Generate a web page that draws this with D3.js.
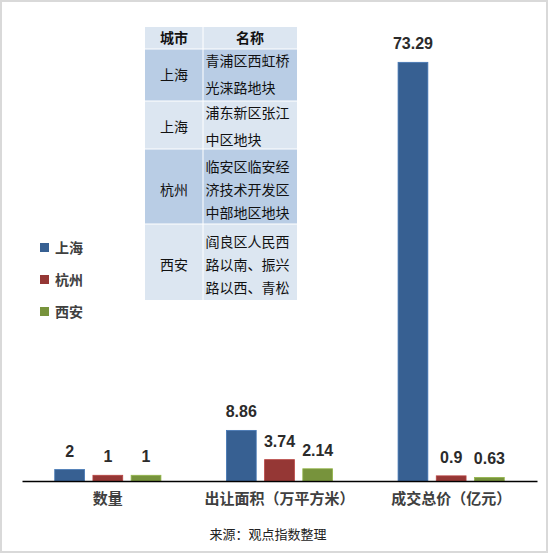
<!DOCTYPE html>
<html><head><meta charset="utf-8">
<script src="https://cdn.jsdelivr.net/npm/d3@7"></script>
<style>
html,body{margin:0;padding:0;background:#fff;}
svg{display:block;}
</style></head>
<body>
<script>
// ---- data ----
const categories = ["数量", "出让面积（万平方米）", "成交总价（亿元）"];
const seriesNames = ["上海", "杭州", "西安"];
const shanghai = [2, 8.86, 73.29];
const hangzhou = [1, 3.74, 0.9];
const xian = [1, 2.14, 0.63];
const seriesValues = [shanghai, hangzhou, xian];
const seriesColors = ["#376092", "#953735", "#77933c"];
const tableHeader = ["城市", "名称"];
const tableCities = ["上海", "上海", "杭州", "西安"];
const tableNames = [
  ["青浦区西虹桥", "光涞路地块"],
  ["浦东新区张江", "中区地块"],
  ["临安区临安经", "济技术开发区", "中部地区地块"],
  ["阎良区人民西", "路以南、振兴", "路以西、青松"]
];
const sourceText = "来源：观点指数整理";

// ---- drawing ----
const W = 550, H = 554;
const svg = d3.select("body").append("svg").attr("width", W).attr("height", H);
svg.append("rect").attr("x", 1).attr("y", 1).attr("width", 546).attr("height", 551)
  .attr("fill", "#fff").attr("stroke", "#d9d9d9").attr("stroke-width", 2);

const cjk = "'Noto Sans CJK SC','Noto Sans',sans-serif";
const num = "'Liberation Sans',Arial,sans-serif";

const x0 = d3.scaleBand().domain(categories).range([22, 537]).paddingInner(0).paddingOuter(0);
const x1 = d3.scaleBand().domain(seriesNames).range([0, x0.bandwidth()]).paddingInner(0.22).paddingOuter(0.857);
const y = d3.scaleLinear().domain([0, 80]).range([481, 24]);

const data = [];
categories.forEach((c, i) => seriesNames.forEach((s, j) => data.push({c, s, v: seriesValues[j][i], color: seriesColors[j]})));

const g = svg.append("g");
g.selectAll("rect.bar").data(data).join("rect").attr("class", "bar")
  .attr("x", d => x0(d.c) + x1(d.s))
  .attr("y", d => y(d.v))
  .attr("width", x1.bandwidth())
  .attr("height", d => y(0) - y(d.v))
  .attr("fill", d => d.color)
  .attr("stroke", d => d3.color(d.color).brighter(0.6))
  .attr("stroke-width", 0.8);

g.selectAll("text.val").data(data).join("text").attr("class", "val")
  .attr("x", d => x0(d.c) + x1(d.s) + x1.bandwidth() / 2)
  .attr("y", d => y(d.v) - 13)
  .attr("text-anchor", "middle")
  .attr("font-family", num).attr("font-weight", "bold").attr("font-size", 16)
  .attr("fill", "#2b2b2b")
  .text(d => d.v);

// axis
const xAxis = d3.axisBottom(x0).tickSize(0).tickPadding(12);
const ax = svg.append("g").attr("transform", `translate(0,${y(0)})`).call(xAxis);
ax.select(".domain").attr("stroke", "#000").attr("stroke-width", 1.5);
ax.selectAll("text").attr("font-family", cjk).attr("font-size", 15).attr("font-weight", "bold")
  .attr("fill", "#404040");

// legend
const leg = svg.append("g");
seriesNames.forEach((s, i) => {
  const ly = 248 + i * 32;
  leg.append("rect").attr("x", 40).attr("y", ly - 5).attr("width", 9).attr("height", 9).attr("fill", seriesColors[i]);
  leg.append("text").attr("x", 55).attr("y", ly).attr("dy", "0.35em")
    .attr("font-family", cjk).attr("font-size", 14).attr("font-weight", "bold").attr("fill", "#404040").text(s);
});

// table
const tX = 145, tMid = 203, tR = 297, tTop = 27, headH = 22;
const rowH = [52, 48, 75, 76];
const tb = svg.append("g");
tb.append("rect").attr("x", tX).attr("y", tTop).attr("width", tR - tX).attr("height", headH).attr("fill", "#dce6f1");
tb.append("text").attr("x", (tX + tMid) / 2).attr("y", tTop + headH / 2).attr("dy", "0.35em").attr("text-anchor", "middle")
  .attr("font-family", cjk).attr("font-size", 14).attr("font-weight", "bold").attr("fill", "#111").text(tableHeader[0]);
tb.append("text").attr("x", (tMid + tR) / 2).attr("y", tTop + headH / 2).attr("dy", "0.35em").attr("text-anchor", "middle")
  .attr("font-family", cjk).attr("font-size", 14).attr("font-weight", "bold").attr("fill", "#111").text(tableHeader[1]);
let ry = tTop + headH;
tableCities.forEach((city, i) => {
  const h = rowH[i];
  tb.append("rect").attr("x", tX).attr("y", ry).attr("width", tR - tX).attr("height", h)
    .attr("fill", i % 2 === 0 ? "#b9cde5" : "#dce6f1");
  const lines = tableNames[i];
  const centers = lines.length === 2 ? lines.map((_, k) => ry + 12.5 + k * 26.5) : lines.map((_, k) => ry + 18 + k * 23);
  lines.forEach((ln, k) => {
    tb.append("text").attr("x", tMid + 2.5).attr("y", centers[k]).attr("dy", "0.35em")
      .attr("font-family", cjk).attr("font-size", 14).attr("fill", "#111").text(ln);
  });
  tb.append("text").attr("x", (tX + tMid) / 2).attr("y", d3.mean(centers)).attr("dy", "0.35em").attr("text-anchor", "middle")
    .attr("font-family", cjk).attr("font-size", 14).attr("fill", "#111").text(city);
  tb.append("line").attr("x1", tX).attr("x2", tR).attr("y1", ry).attr("y2", ry).attr("stroke", "#fff").attr("stroke-width", 1);
  ry += h;
});
tb.append("line").attr("x1", tMid).attr("x2", tMid).attr("y1", tTop).attr("y2", ry).attr("stroke", "#fff").attr("stroke-width", 1);

// source
svg.append("text").attr("x", 268).attr("y", 534).attr("dy", "0.35em").attr("text-anchor", "middle")
  .attr("font-family", cjk).attr("font-size", 13).attr("fill", "#222").text(sourceText);
</script>
</body></html>
